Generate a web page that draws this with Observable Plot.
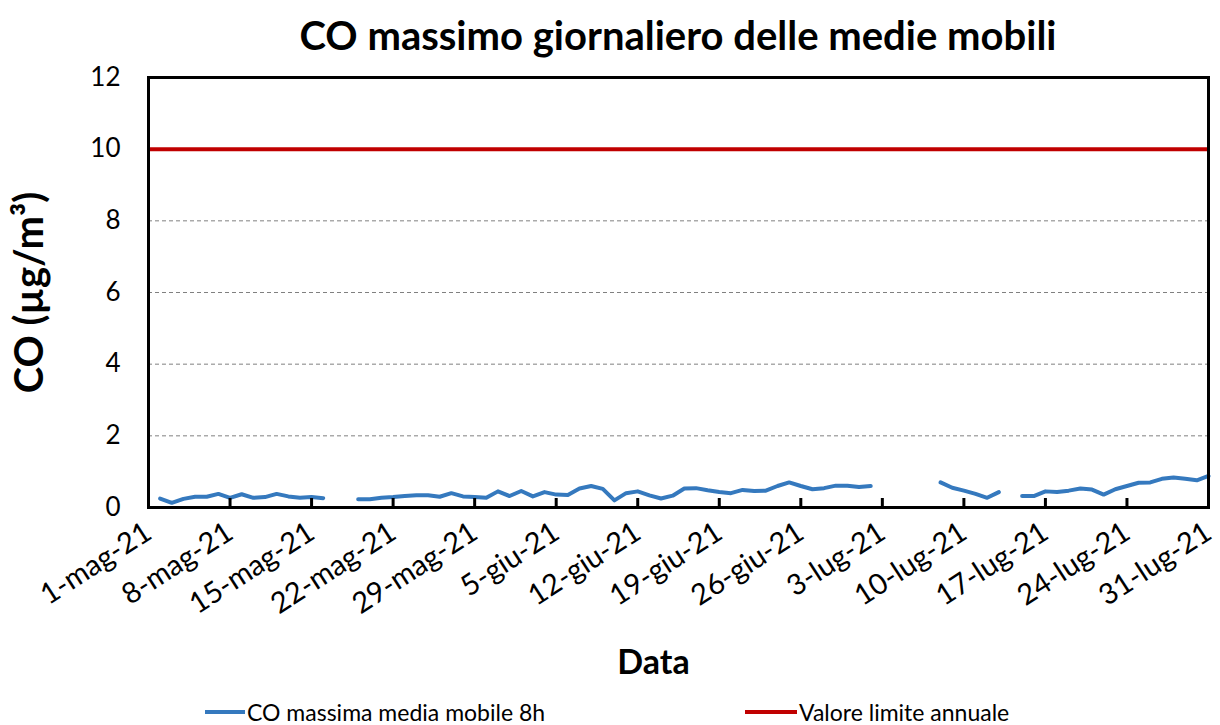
<!DOCTYPE html>
<html>
<head>
<meta charset="utf-8">
<script src="https://cdn.jsdelivr.net/npm/d3@7"></script>
<script src="https://cdn.jsdelivr.net/npm/@observablehq/plot@0.6"></script>
<style>
  html, body { margin: 0; padding: 0; background: #fff; }
  #wrap { position: relative; width: 1220px; height: 725px; font-family: Lato, "Open Sans", sans-serif; color: #000; overflow: hidden; }
  #title { position: absolute; left: 148px; width: 1060px; top: 13px; text-align: center; font-weight: bold; font-size: 40px; line-height: 44px; white-space: nowrap; }
  #chart { position: absolute; left: 0; top: 70px; }
  .leg { position: absolute; top: 697px; height: 30px; display: flex; align-items: center; font-size: 23px; white-space: nowrap; }
  .leg .sw { display: inline-block; height: 4px; margin-right: 2px; }
</style>
</head>
<body>
<div id="wrap">
  <div id="title"></div>
  <div id="chart"></div>
  <div class="leg" id="leg1" style="left:205px"><span class="sw" style="width:40px;background:#3579BE"></span><span class="lt"></span></div>
  <div class="leg" id="leg2" style="left:745px"><span class="sw" style="width:52px;background:#C00000"></span><span class="lt"></span></div>
</div>
<script>
const titleText = "CO massimo giornaliero delle medie mobili";
const yTitle = "CO (µg/m³)";
const xTitle = "Data";
const seriesNames = ["CO massima media mobile 8h", "Valore limite annuale"];

// Daily values, 2 May 2021 .. 31 Jul 2021 (null = missing day)
const coValues = [
  0.25, 0.13, 0.24, 0.30, 0.30, 0.38, 0.27, 0.37, 0.27, 0.29, 0.38, 0.31, 0.27, 0.29, 0.26,
  null, null,
  0.23, 0.23, 0.27, 0.29, 0.32, 0.34, 0.34, 0.30, 0.40, 0.31, 0.29, 0.27, 0.45, 0.32, 0.46,
  0.31, 0.43, 0.36, 0.35, 0.53, 0.60, 0.52, 0.20, 0.40, 0.45, 0.34, 0.25, 0.33, 0.53, 0.54,
  0.48, 0.43, 0.40, 0.49, 0.46, 0.47, 0.60, 0.70, 0.60, 0.51, 0.54, 0.61, 0.61, 0.57, 0.60,
  null, null, null, null, null,
  0.70, 0.55, 0.47, 0.38, 0.27, 0.43,
  null,
  0.32, 0.32, 0.45, 0.43, 0.47, 0.53, 0.50, 0.36, 0.51, 0.60, 0.69, 0.70, 0.80, 0.84, 0.80, 0.76, 0.88
];
const limitValue = [10];
const yTicks = [0, 2, 4, 6, 8, 10, 12];
const gridValues = [2, 4, 6, 8, 10];
const tickDayOffsets = [0, 7, 14, 21, 28, 35, 42, 49, 56, 63, 70, 77, 84, 91];
const tickLabels = ["1-mag-21", "8-mag-21", "15-mag-21", "22-mag-21", "29-mag-21", "5-giu-21", "12-giu-21",
  "19-giu-21", "26-giu-21", "3-lug-21", "10-lug-21", "17-lug-21", "24-lug-21", "31-lug-21"];

const day = i => new Date(Date.UTC(2021, 4, 1 + i));
const data = coValues.map((v, i) => ({ date: day(i + 1), co: v }));
const tickDates = tickDayOffsets.map(day);
const labelByTime = new Map(tickDates.map((d, i) => [+d, tickLabels[i]]));

document.getElementById("title").textContent = titleText;
document.querySelector("#leg1 .lt").textContent = seriesNames[0];
document.querySelector("#leg2 .lt").textContent = seriesNames[1];

const chart = Plot.plot({
  width: 1220,
  height: 620,
  marginLeft: 148,
  marginRight: 12,
  marginTop: 7,
  marginBottom: 183,
  style: { fontFamily: "Lato, 'Open Sans', sans-serif", color: "black", background: "white", overflow: "visible" },
  x: { type: "utc", domain: [day(0), day(91)] },
  y: { domain: [0, 12] },
  marks: [
    Plot.gridY(gridValues, { stroke: "#808080", strokeOpacity: 1, strokeDasharray: "4,3", strokeWidth: 1 }),
    Plot.ruleY(limitValue, { stroke: "#C00000", strokeWidth: 4 }),
    Plot.line(data, { x: "date", y: "co", stroke: "#3579BE", strokeWidth: 4, strokeLinejoin: "round", strokeLinecap: "round" }),
    Plot.axisY(yTicks, { tickSize: 0, tickPadding: 28, fontSize: 26, label: null }),
    Plot.axisX(tickDates, { tickSize: -9, strokeWidth: 3, tickFormat: () => "", label: null }),
    Plot.axisX(tickDates, { tickSize: 0, tickPadding: 22, tickRotate: -33, fontSize: 29, tickFormat: d => labelByTime.get(+d), label: null }),
    Plot.text([yTitle], { frameAnchor: "left", textAnchor: "middle", lineAnchor: "middle", rotate: -90, dx: -118, fontWeight: "bold", fontSize: 40 }),
    Plot.text([xTitle], { frameAnchor: "bottom", lineAnchor: "middle", dx: -25, dy: 156, fontWeight: "bold", fontSize: 34 }),
    Plot.frame({ stroke: "black", strokeWidth: 3 })
  ]
});
document.getElementById("chart").appendChild(chart);
</script>
</body>
</html>
